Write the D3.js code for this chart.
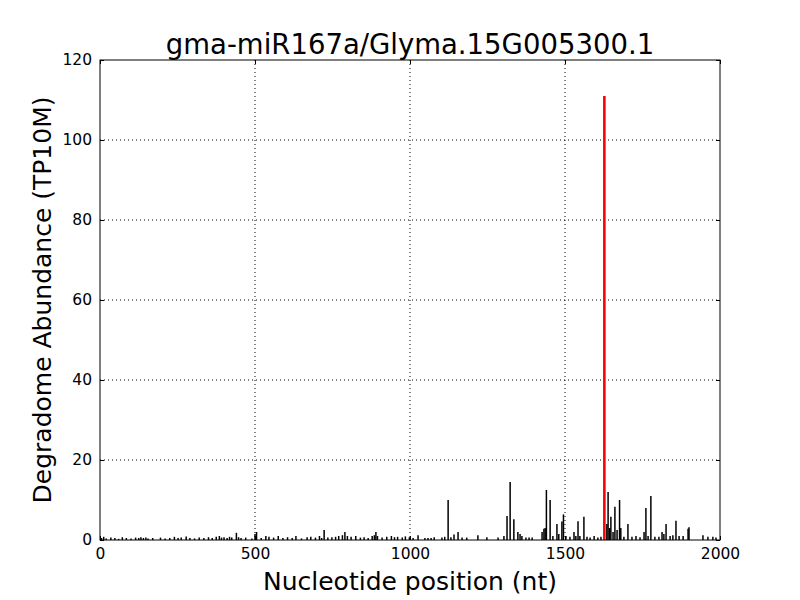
<!DOCTYPE html>
<html><head><meta charset="utf-8">
<script src="https://cdn.jsdelivr.net/npm/d3@7"></script>
<style>body{margin:0;background:#fff}svg{display:block}text{font-family:"DejaVu Sans",sans-serif}</style>
</head><body><svg id="c" width="800" height="600"></svg>
<script>
const title = "gma-miR167a/Glyma.15G005300.1";
const xLabel = "Nucleotide position (nt)";
const yLabel = "Degradome Abundance (TP10M)";
const xTicks = [0, 500, 1000, 1500, 2000];
const yTicks = [0, 20, 40, 60, 80, 100, 120];
// background degradome reads: [position, abundance]
const positions = [5,12,20,35,48,60,72,85,100,115,125,132,140,148,155,170,195,210,225,240,252,262,278,290,305,320,335,350,362,375,385,392,400,410,418,425,440,447,455,470,490,500,505,520,535,545,560,575,590,605,620,632,650,668,680,695,708,715,723,735,748,760,770,782,790,798,810,825,840,852,865,878,885,890,895,910,925,940,950,960,975,985,998,1010,1026,1048,1058,1068,1078,1103,1112,1123,1132,1142,1155,1168,1183,1219,1248,1284,1303,1313,1323,1335,1348,1355,1361,1374,1384,1394,1426,1432,1436,1440,1452,1461,1474,1480,1490,1495,1503,1516,1529,1535,1542,1548,1561,1571,1581,1594,1606,1616,1635,1639,1644,1648,1655,1661,1668,1676,1680,1690,1703,1716,1729,1742,1755,1761,1768,1777,1790,1803,1813,1819,1826,1839,1848,1858,1868,1881,1897,1900,1945,1961,1977,1987];
const values = [0.5,0.8,0.4,0.6,0.5,0.3,0.7,0.5,0.4,0.6,0.5,0.7,0.5,0.6,0.4,0.5,0.6,0.4,0.5,0.8,0.5,0.6,0.9,0.5,0.4,0.6,0.5,0.7,0.5,0.8,1.0,0.6,0.7,0.5,0.8,0.6,1.8,0.7,0.5,0.6,0.4,1.5,2.0,0.5,1.0,0.8,0.6,1.0,0.5,0.7,0.5,1.0,0.4,0.7,0.8,0.6,1.0,0.5,2.5,0.6,0.7,0.8,1.0,1.2,2.0,1.0,0.8,1.0,0.6,0.7,0.5,1.0,1.2,2.0,1.0,0.6,0.8,1.0,0.7,0.8,0.6,0.9,0.7,0.5,1.2,0.5,0.5,0.5,0.7,0.6,0.8,10,0.7,1.4,2.0,0.6,0.6,1.2,0.7,0.6,1.0,6.0,14.5,5.2,2.0,1.5,1.0,0.6,0.6,0.6,2.0,2.8,3.0,12.5,10,1.0,4.0,1.5,4.6,6.4,1.0,0.8,2.0,1.0,4.7,1.0,5.8,0.8,0.6,1.0,0.6,0.8,4.0,12,3.0,5.8,2.0,8.3,2.5,10,3.0,0.8,4.0,0.8,1.0,0.7,2.0,8.0,1.0,11,0.8,0.8,2.0,1.5,4.0,1.0,1.2,4.8,1.0,1.0,2.8,3.2,1.2,0.8,0.8,0.6];
// miRNA cleavage site
const sitePosition = 1627;
const siteValue = 111;

const svg = d3.select("#c");
const L = 100, R = 720, T = 60, B = 540;
const x = d3.scaleLinear().domain([0, 2000]).range([L, R]);
const y = d3.scaleLinear().domain([0, 120]).range([B, T]);

// grid
const g = svg.append("g");
g.selectAll(".gx").data(xTicks.slice(1, -1)).enter().append("line")
  .attr("x1", d => x(d)).attr("x2", d => x(d)).attr("y1", T).attr("y2", B)
  .attr("stroke", "#000").attr("stroke-width", 1).attr("stroke-dasharray", "1,3");
g.selectAll(".gy").data(yTicks.slice(1, -1)).enter().append("line")
  .attr("y1", d => y(d)).attr("y2", d => y(d)).attr("x1", L).attr("x2", R)
  .attr("stroke", "#000").attr("stroke-width", 1).attr("stroke-dasharray", "1,3");

// bars
const data = positions.map((p, i) => ({p, v: values[i]}));
svg.append("g").selectAll("line").data(data).enter().append("line")
  .attr("x1", d => x(d.p)).attr("x2", d => x(d.p))
  .attr("y1", y(0)).attr("y2", d => y(d.v))
  .attr("stroke", "#000").attr("stroke-width", 1.5);
svg.append("line")
  .attr("x1", x(sitePosition)).attr("x2", x(sitePosition))
  .attr("y1", y(0)).attr("y2", y(siteValue))
  .attr("stroke", "#ff0000").attr("stroke-width", 2.6);

// axes (ticks inward on all sides)
const fs = "15.5px";
const ax = svg.append("g");
const axBottom = d3.axisBottom(x).tickValues(xTicks).tickSizeInner(-4).tickSizeOuter(0).tickPadding(8).tickFormat(d3.format("d"));
const axTop = d3.axisTop(x).tickValues(xTicks).tickSizeInner(-4).tickSizeOuter(0).tickFormat("");
const axLeft = d3.axisLeft(y).tickValues(yTicks).tickSizeInner(-4).tickSizeOuter(0).tickPadding(8).tickFormat(d3.format("d"));
const axRight = d3.axisRight(y).tickValues(yTicks).tickSizeInner(-4).tickSizeOuter(0).tickFormat("");
[[axBottom, `translate(0,${B})`], [axTop, `translate(0,${T})`], [axLeft, `translate(${L},0)`], [axRight, `translate(${R},0)`]].forEach(([a, t]) => {
  const gg = ax.append("g").attr("transform", t).call(a);
  gg.select(".domain").remove();
  gg.selectAll("line").attr("stroke", "#000");
  gg.selectAll("text").attr("fill", "#000").style("font-size", fs).style("font-family", "DejaVu Sans");
});
svg.append("rect").attr("x", L).attr("y", T).attr("width", R - L).attr("height", B - T)
  .attr("fill", "none").attr("stroke", "#000").attr("stroke-width", 1);

svg.append("text").attr("x", (L + R) / 2).attr("y", 54).attr("text-anchor", "middle")
  .style("font-size", "27.5px").text(title);
svg.append("text").attr("x", (L + R) / 2).attr("y", 590).attr("text-anchor", "middle")
  .style("font-size", "25px").text(xLabel);
svg.append("text").attr("transform", `translate(51,${(T + B) / 2}) rotate(-90)`).attr("text-anchor", "middle")
  .style("font-size", "25px").text(yLabel);
</script></body></html>
